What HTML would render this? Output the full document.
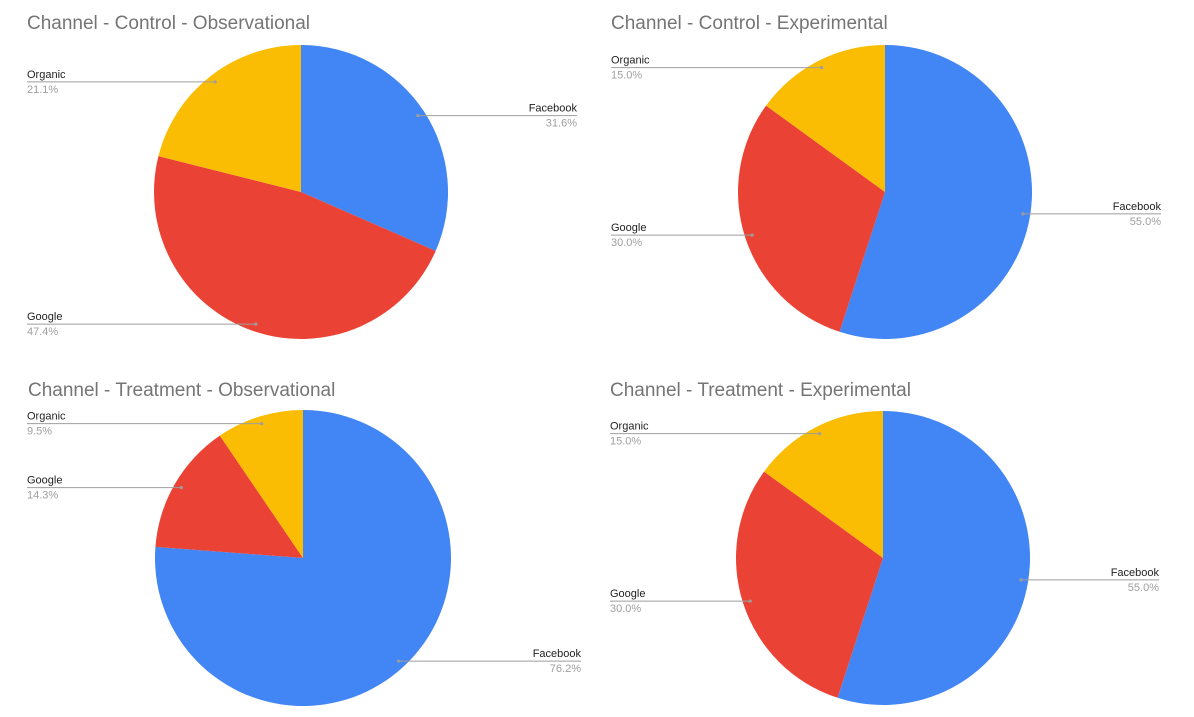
<!DOCTYPE html>
<html><head><meta charset="utf-8"><style>
html,body{margin:0;padding:0;background:#fff;}
svg{display:block;font-family:"Liberation Sans",Arial,sans-serif;}
</style></head><body>
<svg id="c" width="1194" height="717" viewBox="0 0 1194 717"></svg>
<script>
const categories = ["Facebook","Google","Organic"];
const colors = ["#4285f4","#ea4335","#fbbc04"];
const titles = ["Channel - Control - Observational","Channel - Control - Experimental","Channel - Treatment - Observational","Channel - Treatment - Experimental"];
const valuesCO = [31.6,47.4,21.1];
const valuesCE = [55.0,30.0,15.0];
const valuesTO = [76.2,14.3,9.5];
const valuesTE = [55.0,30.0,15.0];
const seriesValues = [valuesCO,valuesCE,valuesTO,valuesTE];
const layouts = [
 {cx:301,cy:192,r:147,tx:27,ty:29,left:27,right:577},
 {cx:885,cy:192,r:147,tx:611,ty:29,left:611,right:1161},
 {cx:303,cy:558,r:148,tx:28,ty:396,left:27,right:581},
 {cx:883,cy:558,r:147,tx:610,ty:396,left:610,right:1159}
];
const NS="http://www.w3.org/2000/svg";
const svg=document.getElementById('c');
function mk(tag,attrs,parent){const e=document.createElementNS(NS,tag);for(const k in attrs)e.setAttribute(k,attrs[k]);(parent||svg).appendChild(e);return e;}
seriesValues.forEach((vals,ci)=>{
  const L=layouts[ci];
  const g=mk('g',{});
  
  
  const t=mk('text',{x:L.tx,y:L.ty,'font-size':19,fill:'#757575'},g);
  t.textContent=titles[ci];
  
  
  const total=vals.reduce((a,b)=>a+b,0);
  let acc=0;
  vals.forEach((v,i)=>{
    const a0=acc/total*2*Math.PI, a1=(acc+v)/total*2*Math.PI;
    const am=(a0+a1)/2;
    acc+=v;
    const p=(a)=>[L.cx+L.r*Math.sin(a),L.cy-L.r*Math.cos(a)];
    const [x0,y0]=p(a0),[x1,y1]=p(a1);
    const large=(a1-a0)>Math.PI?1:0;
    const s=mk('path',{d:`M${L.cx},${L.cy}L${x0},${y0}A${L.r},${L.r} 0 ${large} 1 ${x1},${y1}Z`,fill:colors[i]},g);
    
    
  });
  acc=0;
  vals.forEach((v,i)=>{
    const am=(acc+v/2)/total*2*Math.PI; acc+=v;
    const dx=L.cx+0.95*L.r*Math.sin(am), dy=L.cy-0.95*L.r*Math.cos(am);
    const right=Math.sin(am)>0;
    const ex=right?L.right:L.left;
    const ln=mk('line',{x1:dx,y1:dy,x2:ex,y2:dy,stroke:'#9e9e9e','stroke-width':1},g);
    
    
    mk('circle',{cx:dx,cy:dy,r:1.6,fill:'#9e9e9e'},g);
    const anchor=right?'end':'start';
    const n=mk('text',{x:ex,y:dy-4,'font-size':11,fill:'#222','text-anchor':anchor},g);
    n.textContent=categories[i];
    
    
    const pc=mk('text',{x:ex,y:dy+11,'font-size':11,fill:'#9e9e9e','text-anchor':anchor},g);
    pc.textContent=(v/total*100).toFixed(1)+'%';
    
    
  });
});
</script>
</body></html>
